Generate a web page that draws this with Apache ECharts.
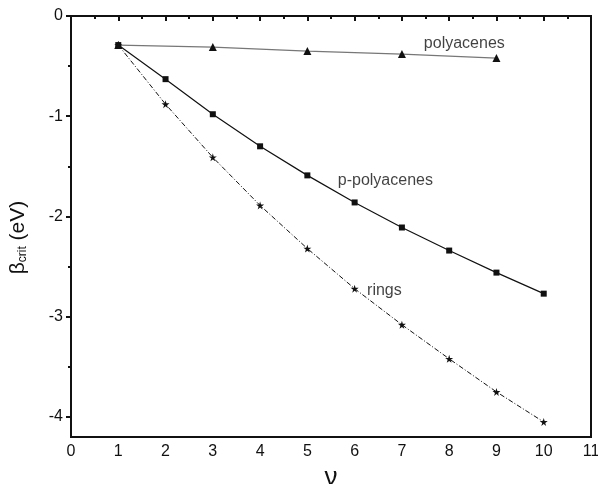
<!DOCTYPE html>
<html>
<head>
<meta charset="utf-8">
<script src="https://cdn.jsdelivr.net/npm/echarts@6/dist/echarts.min.js"></script>
<style>html,body{margin:0;padding:0;background:#fff}#c{width:598px;height:484px}</style>
</head>
<body>
<div id="c"></div>
<script>
var polyX = [1, 3, 5, 7, 9];
var polyY = [-0.29, -0.31, -0.35, -0.38, -0.42];
var pX = [1, 2, 3, 4, 5, 6, 7, 8, 9, 10];
var pY = [-0.29, -0.63, -0.98, -1.30, -1.59, -1.86, -2.11, -2.34, -2.56, -2.77];
var ringX = [1, 2, 3, 4, 5, 6, 7, 8, 9, 10];
var ringY = [-0.29, -0.88, -1.41, -1.89, -2.32, -2.72, -3.08, -3.42, -3.75, -4.05];
var labelText = ['polyacenes', 'p-polyacenes', 'rings'];
var labelX = [8.32, 6.65, 6.63];
var labelY = [-0.28, -1.64, -2.74];
var yTicks = [0, -1, -2, -3, -4];
var yMinor = [-0.5, -1.5, -2.5, -3.5];

function zip(a, b) { return a.map(function (v, i) { return [v, b[i]]; }); }

var star = 'path://M50 0 L61 35 L98 35 L68 57 L79 91 L50 70 L21 91 L32 57 L2 35 L39 35 Z';

var chart = echarts.init(document.getElementById('c'));
var font = 'Liberation Sans, Arial, sans-serif';
chart.setOption({
  animation: false,
  backgroundColor: '#fff',
  grid: { left: 71, right: 7, top: 16, bottom: 47, outerBoundsMode: 'none', containLabel: false,
    show: true, borderColor: '#111', borderWidth: 2, backgroundColor: 'transparent' },
  xAxis: {
    type: 'value', min: 0, max: 11, interval: 1,
    name: 'ν', nameLocation: 'middle', nameGap: 28,
    nameTextStyle: { fontSize: 26, color: '#111', fontFamily: font },
    axisLine: { show: true, lineStyle: { color: '#111', width: 2 } },
    axisTick: { show: true, inside: false, length: 5, lineStyle: { color: '#111', width: 2 } },
    minorTick: { show: true, splitNumber: 2, length: 3, lineStyle: { color: '#111', width: 2 } },
    axisLabel: { fontSize: 16, color: '#111', fontFamily: font, margin: 7 },
    splitLine: { show: false }
  },
  yAxis: [{
    type: 'value', min: -4.2, max: 0,
    name: '{b|β}{s|crit}{b| (eV)}', nameLocation: 'middle', nameGap: 42,
    nameTextStyle: { color: '#111', fontFamily: font, padding: [0, 0, 0, -22],
      rich: { b: { fontSize: 21, color: '#111', fontFamily: font }, s: { fontSize: 12, color: '#111', fontFamily: font, verticalAlign: 'bottom', padding: [8, 0, 0, 0] } } },
    axisLine: { show: true, lineStyle: { color: '#111', width: 2 } },
    axisTick: { show: true, inside: false, length: 5, customValues: yTicks, lineStyle: { color: '#111', width: 2 } },
    axisLabel: { fontSize: 16, color: '#111', fontFamily: font, margin: 8, customValues: yTicks,
      formatter: function (v) { return String(v); } },
    splitLine: { show: false }
  }, {
    type: 'value', min: -4.2, max: 0, position: 'left',
    axisLine: { show: false },
    axisTick: { show: true, inside: false, length: 3, customValues: yMinor, lineStyle: { color: '#111', width: 2 } },
    axisLabel: { show: false, customValues: yMinor },
    splitLine: { show: false }
  }],
  series: [{
    name: 'polyacenes', type: 'line', data: zip(polyX, polyY),
    symbol: 'triangle', symbolSize: 8, showSymbol: true,
    itemStyle: { color: '#111' },
    lineStyle: { color: '#777', width: 1.2 }
  }, {
    name: 'p-polyacenes', type: 'line', data: zip(pX, pY),
    symbol: 'rect', symbolSize: 6,
    itemStyle: { color: '#111' },
    lineStyle: { color: '#111', width: 1.2 }
  }, {
    name: 'rings', type: 'line', data: zip(ringX, ringY),
    symbol: star, symbolSize: 8,
    itemStyle: { color: '#111' },
    lineStyle: { color: '#111', width: 1, type: [5, 2, 1, 2] }
  }, {
    name: 'labels', type: 'scatter', symbol: 'circle', symbolSize: 1,
    itemStyle: { color: 'rgba(0,0,0,0)' },
    data: labelX.map(function (x, i) { return { value: [x, labelY[i]], name: labelText[i] }; }),
    label: { show: true, position: 'inside', formatter: '{b}', fontSize: 16, color: '#111', fontFamily: font },
    silent: true
  }]
});
</script>
</body>
</html>
